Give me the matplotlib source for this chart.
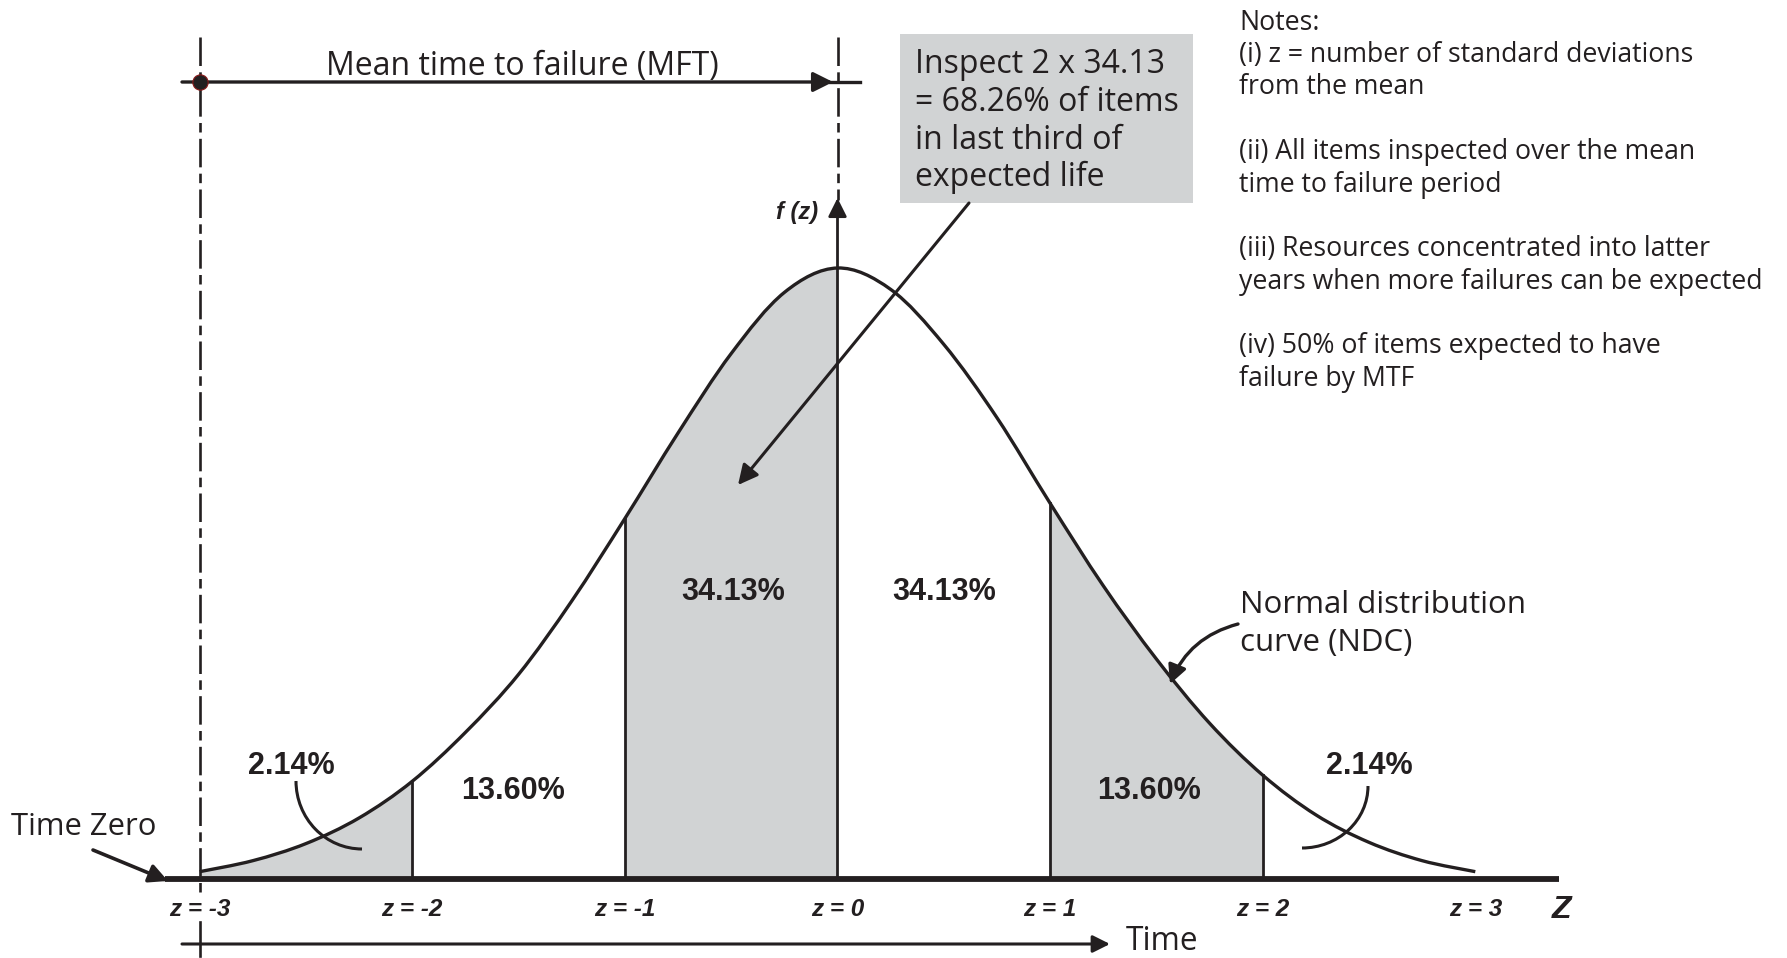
import matplotlib
matplotlib.use("Agg")
import numpy as np
import matplotlib.pyplot as plt
from matplotlib.patches import Arc, PathPatch
from matplotlib.path import Path

# -------------------------------
# Data
# -------------------------------

# normal distribution curve, height relative to the peak
z_points = [-3.0, -2.75, -2.5, -2.25, -2.0, -1.75, -1.5, -1.25, -1.0, -0.75, -0.5, -0.25, 0.0,
            0.25, 0.5, 0.75, 1.0, 1.25, 1.5, 1.75, 2.0, 2.25, 2.5, 2.75, 3.0]
f_values = [0.012, 0.030, 0.058, 0.100, 0.160, 0.240, 0.335, 0.455, 0.590, 0.730, 0.860, 0.960, 1.0,
            0.965, 0.875, 0.755, 0.615, 0.480, 0.360, 0.255, 0.170, 0.105, 0.060, 0.030, 0.012]

shaded_bands = [(-3, -2), (-1, 0), (1, 2)]
divider_z = [-2, -1, 1, 2]

band_labels = ["2.14%", "13.60%", "34.13%", "34.13%", "13.60%", "2.14%"]

tick_z = [-3, -2, -1, 0, 1, 2, 3]
tick_labels = ["z = -3", "z = -2", "z = -1", "z = 0", "z = 1", "z = 2", "z = 3"]

box_lines = ["Inspect 2 x 34.13", "= 68.26% of items", "in last third of", "expected life"]

notes_lines = ["Notes:",
               "(i) z = number of standard deviations",
               "from the mean",
               "(ii) All items inspected over the mean",
               "time to failure period",
               "(iii) Resources concentrated into latter",
               "years when more failures can be expected",
               "(iv) 50% of items expected to have",
               "failure by MTF"]

# -------------------------------
# Layout helpers (pixel -> data)
# -------------------------------

W, H = 1787, 958
X0, PXZ = 837.5, 212.6     # pixel x of z=0, pixels per z unit
Y0, PXF = 879.0, 611.0     # pixel y of baseline, pixels per unit height


def X(px):
    return (px - X0) / PXZ


def Y(py):
    return (Y0 - py) / PXF


INK = "#231f20"
GREY = "#d1d3d4"
REG = ["Open Sans", "DejaVu Sans"]
BOLD = ["Liberation Sans", "DejaVu Sans"]
DASH = (10.8, 2.4, 3.6, 2.4)

pts = np.column_stack([z_points, f_values])
n = len(pts)


def smooth_segments(i0, i1):
    # cubic bezier pieces through the read points (catmull-rom tangents)
    verts = []
    for i in range(i0, i1):
        p0 = pts[max(i - 1, 0)]
        p1 = pts[i]
        p2 = pts[i + 1]
        p3 = pts[min(i + 2, n - 1)]
        verts += [p1 + (p2 - p0) / 6, p2 - (p3 - p1) / 6, p2]
    return verts


fig = plt.figure(figsize=(W / 100, H / 100), dpi=100)
ax = fig.add_axes([0, 0, 1, 1])
ax.set_xlim(X(0), X(W))
ax.set_ylim(Y(H), Y(0))
ax.axis("off")

# -------------------------------
# Shaded bands and curve
# -------------------------------

for lo, hi in shaded_bands:
    i0, i1 = z_points.index(lo), z_points.index(hi)
    segs = smooth_segments(i0, i1)
    verts = [(lo, 0), pts[i0]] + segs + [(hi, 0), (lo, 0)]
    codes = [Path.MOVETO, Path.LINETO] + [Path.CURVE4] * len(segs) + [Path.LINETO, Path.CLOSEPOLY]
    ax.add_patch(PathPatch(Path(verts, codes), fc=GREY, ec="none", lw=0, zorder=1))

for zd in divider_z:
    ax.plot([zd, zd], [0, f_values[z_points.index(zd)]], color=INK, lw=2.0, zorder=2)

segs = smooth_segments(0, n - 1)
curve = Path([pts[0]] + segs, [Path.MOVETO] + [Path.CURVE4] * len(segs))
ax.add_patch(PathPatch(curve, fc="none", ec=INK, lw=2.4, zorder=3))

# baseline
ax.plot([X(165), X(1559)], [0, 0], color=INK, lw=4.2, zorder=4, solid_capstyle="butt")

# f(z) axis through z = 0
ax.annotate("", xy=(0, Y(198)), xytext=(0, 0),
            arrowprops=dict(arrowstyle="-|>", lw=2.0, color=INK, mutation_scale=28,
                            shrinkA=0, shrinkB=0), zorder=4)
ax.text(X(818), Y(213), "f (z)", family=BOLD, fontsize=17, fontweight="bold",
        fontstyle="italic", color=INK, ha="right", va="center")

# dashed guide lines
left_dash, = ax.plot([-3, -3], [Y(37), Y(893)], color=INK, lw=1.9, zorder=5)
left_dash.set_dashes(DASH)
ax.plot([-3, -3], [Y(922), Y(956)], color=INK, lw=1.9, zorder=5)
right_dash, = ax.plot([0, 0], [Y(37), Y(200)], color=INK, lw=1.9, zorder=5)
right_dash.set_dashes(DASH)

# -------------------------------
# Mean time to failure arrow
# -------------------------------

ax.annotate("", xy=(X(833), Y(82)), xytext=(X(182), Y(82)),
            arrowprops=dict(arrowstyle="-|>", lw=2.4, color=INK, mutation_scale=30,
                            shrinkA=0, shrinkB=0), zorder=6)
ax.plot([X(830), X(860)], [Y(82), Y(82)], color=INK, lw=2.4, zorder=6)
ax.plot(-3, Y(82), "o", ms=11, mfc=INK, mec="#8b1a1a", mew=0.8, zorder=7)
ax.text(X(522), Y(67), "Mean time to failure (MFT)", family=REG, fontsize=23,
        color=INK, ha="center", va="center")

# -------------------------------
# Inspect box with arrow
# -------------------------------

ax.fill_between([X(900), X(1193)], Y(203), Y(34), color=GREY, lw=0, zorder=2)
for i, line in enumerate(box_lines):
    ax.text(X(915), Y(65 + 37.6 * i), line, family=REG, fontsize=23, color=INK,
            ha="left", va="center", zorder=3)
ax.annotate("", xy=(X(738), Y(485)), xytext=(X(969), Y(203)),
            arrowprops=dict(arrowstyle="-|>", lw=2.2, color=INK, mutation_scale=30,
                            shrinkA=0, shrinkB=0), zorder=6)

# -------------------------------
# Notes
# -------------------------------

notes_y = [23.5, 55.4, 87.3, 152.3, 185.4, 249.2, 282.2, 346, 379]
for line, py in zip(notes_lines, notes_y):
    ax.text(X(1239), Y(py), line, family=REG, fontsize=19.2, color=INK,
            ha="left", va="center")

# -------------------------------
# Band labels
# -------------------------------

label_pos = [(291, 766), (513, 791), (733, 592), (944, 592), (1149, 791), (1369, 766)]
for txt, (px, py) in zip(band_labels, label_pos):
    ax.text(X(px), Y(py), txt, family=BOLD, fontsize=22, fontweight="bold",
            color=INK, ha="center", va="center", zorder=6)

# small arcs pointing at the 2.14% tails
ax.add_patch(Arc((X(362), Y(781)), 2 * 66 / PXZ, 2 * 68 / PXF, theta1=180, theta2=270,
                 color=INK, lw=2.2, zorder=6))
ax.add_patch(Arc((X(1302), Y(786)), 2 * 66 / PXZ, 2 * 62 / PXF, theta1=270, theta2=360,
                 color=INK, lw=2.2, zorder=6))

# -------------------------------
# NDC label and arrow
# -------------------------------

ax.text(X(1240), Y(605), "Normal distribution", family=REG, fontsize=22.5, color=INK,
        ha="left", va="center")
ax.text(X(1240), Y(643), "curve (NDC)", family=REG, fontsize=22.5, color=INK,
        ha="left", va="center")
ax.annotate("", xy=(X(1170), Y(684)), xytext=(X(1238), Y(624)),
            arrowprops=dict(arrowstyle="-|>", lw=2.4, color=INK, mutation_scale=28,
                            shrinkA=0, shrinkB=0, connectionstyle="arc3,rad=0.25"), zorder=6)

# -------------------------------
# Time zero, z ticks and time arrow
# -------------------------------

ax.text(X(11), Y(827), "Time Zero", family=REG, fontsize=22.3, color=INK,
        ha="left", va="center")
ax.annotate("", xy=(X(168), Y(881)), xytext=(X(93), Y(850)),
            arrowprops=dict(arrowstyle="-|>", lw=2.6, color=INK, mutation_scale=28,
                            shrinkA=0, shrinkB=0), zorder=6)

for zt, lab in zip(tick_z, tick_labels):
    ax.text(zt, Y(910), lab, family=BOLD, fontsize=17.5, fontweight="bold",
            fontstyle="italic", color=INK, ha="center", va="center")
ax.text(X(1561), Y(910), "Z", family=BOLD, fontsize=23, fontweight="bold",
        fontstyle="italic", color=INK, ha="center", va="center")

ax.annotate("", xy=(X(1110), Y(944)), xytext=(X(182), Y(944)),
            arrowprops=dict(arrowstyle="-|>", lw=2.2, color=INK, mutation_scale=26,
                            shrinkA=0, shrinkB=0), zorder=6)
ax.text(X(1126), Y(941), "Time", family=REG, fontsize=22.8, color=INK,
        ha="left", va="center")

fig.savefig("out.png", dpi=100)
